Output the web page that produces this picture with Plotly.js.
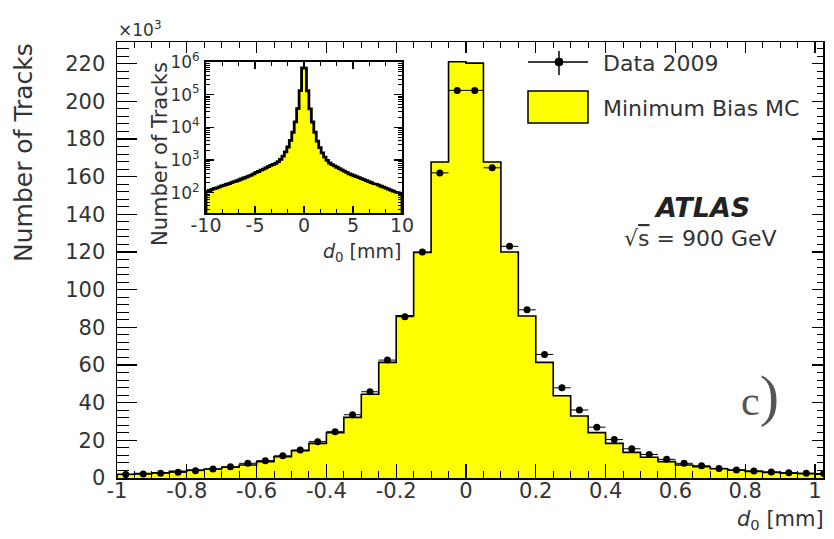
<!DOCTYPE html>
<html><head><meta charset="utf-8">
<script src="https://cdn.plot.ly/plotly-3.0.1.min.js"></script>
<style>html,body{margin:0;padding:0;background:#fff}#chart{width:834px;height:539px}</style>
</head><body><div id="chart"></div>
<script>
// ---- main histogram (d0 in mm, counts in units of 10^3) ----
const d0Bins = [-0.975,-0.925,-0.875,-0.825,-0.775,-0.725,-0.675,-0.625,-0.575,-0.525,
  -0.475,-0.425,-0.375,-0.325,-0.275,-0.225,-0.175,-0.125,-0.075,-0.025,
  0.025,0.075,0.125,0.175,0.225,0.275,0.325,0.375,0.425,0.475,
  0.525,0.575,0.625,0.675,0.725,0.775,0.825,0.875,0.925,0.975,1.025];
const mcCounts = [2.0,2.3,2.8,3.5,4.2,4.8,5.7,6.9,8.7,11.3,
  14.5,18.4,24.0,32.2,44.5,61.4,86.1,119.7,167.8,221.0,
  220.3,167.8,120.0,86.0,61.4,43.7,32.9,24.1,18.4,13.6,
  11.0,8.7,6.9,6.0,4.9,4.2,3.5,3.0,2.6,2.3,2.0];
const dataCounts = [1.8,2.1,2.5,3.0,3.9,4.8,6.0,7.8,9.2,11.8,
  14.9,19.3,24.6,33.6,45.8,62.6,85.6,120.0,162.0,205.8,
  205.8,164.7,123.0,89.3,65.6,47.9,36.1,27.0,20.4,15.5,
  12.5,9.9,7.8,6.5,5.1,4.2,3.7,3.2,2.8,2.5,2.4];
const mainBinWidth = 0.05;
const xTickVals = [-1,-0.8,-0.6,-0.4,-0.2,0,0.2,0.4,0.6,0.8,1];
const xTickText = ['-1','-0.8','-0.6','-0.4','-0.2','0','0.2','0.4','0.6','0.8','1'];

// ---- inset histogram (d0 in mm, counts) ----
const insetBins = [-9.875,-9.625,-9.375,-9.125,-8.875,-8.625,-8.375,-8.125,-7.875,-7.625,
  -7.375,-7.125,-6.875,-6.625,-6.375,-6.125,-5.875,-5.625,-5.375,-5.125,
  -4.875,-4.625,-4.375,-4.125,-3.875,-3.625,-3.375,-3.125,-2.875,-2.625,
  -2.375,-2.125,-1.875,-1.625,-1.375,-1.125,-0.875,-0.625,-0.375,-0.125,
  0.125,0.375,0.625,0.875,1.125,1.375,1.625,1.875,2.125,2.375,
  2.625,2.875,3.125,3.375,3.625,3.875,4.125,4.375,4.625,4.875,
  5.125,5.375,5.625,5.875,6.125,6.375,6.625,6.875,7.125,7.375,
  7.625,7.875,8.125,8.375,8.625,8.875,9.125,9.375,9.625,9.875];
const insetMC = [110,117,126,135,141,151,162,170,182,191,
  204,219,229,245,263,282,302,324,347,380,
  417,447,490,525,575,631,692,741,794,891,
  1047,1318,1778,2512,3981,7079,14800,37400,133600,656000,
  655000,132000,37000,14600,7100,3800,2400,1660,1230,977,
  813,724,661,603,550,501,457,417,380,355,
  331,309,288,269,251,234,219,204,191,182,
  170,158,148,138,129,120,112,105,100,93];
const insetBinWidth = 0.25;
const insetXTickVals = [-10,-5,0,5,10];
const insetXTickText = ['-10','-5','0','5','10'];
const insetTickVals = [1e2,1e3,1e4,1e5,1e6];
const insetTickText = ['10<sup>2</sup>','10<sup>3</sup>','10<sup>4</sup>','10<sup>5</sup>','10<sup>6</sup>'];

function stepXY(centers, vals, w, floor){
  const xs=[centers[0]-w/2], ys=[floor];
  for(let i=0;i<centers.length;i++){ xs.push(centers[i]-w/2, centers[i]+w/2); ys.push(vals[i], vals[i]); }
  xs.push(centers[centers.length-1]+w/2); ys.push(floor);
  return {xs, ys};
}
const W=834, H=539;
const px = v => v/W, py = v => (H-v)/H;
const FONT = 'DejaVu Sans, Arial, sans-serif';
const TXT = '#333';

const mainStep = stepXY(d0Bins, mcCounts, mainBinWidth, 0);
const insetStep = stepXY(insetBins, insetMC, insetBinWidth, 1);

const traces = [
  {type:'bar', x:d0Bins, y:mcCounts, width:mainBinWidth, marker:{color:'#ffff00', line:{width:0}},
   xaxis:'x', yaxis:'y', name:'Minimum Bias MC', showlegend:false, hoverinfo:'skip'},
  {type:'scatter', mode:'lines', x:mainStep.xs, y:mainStep.ys, line:{color:'#000', width:1.6},
   xaxis:'x', yaxis:'y', showlegend:false, hoverinfo:'skip'},
  {type:'scatter', mode:'markers', x:d0Bins, y:dataCounts, name:'Data 2009',
   marker:{color:'#000', size:7},
   error_x:{type:'constant', value:mainBinWidth/2, thickness:1, width:0, color:'#000'},
   xaxis:'x', yaxis:'y', showlegend:false},
  {type:'scatter', x:[], y:[], xaxis:'x3', yaxis:'y', showlegend:false},
  {type:'scatter', x:[], y:[], xaxis:'x', yaxis:'y3', showlegend:false},
  {type:'bar', x:insetBins, y:insetMC, width:insetBinWidth, marker:{color:'#ffff00', line:{width:0}},
   xaxis:'x2', yaxis:'y2', showlegend:false, hoverinfo:'skip'},
  {type:'scatter', mode:'lines', x:insetStep.xs, y:insetStep.ys, line:{color:'#000', width:2.8},
   xaxis:'x2', yaxis:'y2', showlegend:false, hoverinfo:'skip'}
];

const mainDomX = [px(117), px(823)];
const mainDomY = [py(478), py(42)];
const axBase = {showgrid:false, zeroline:false, showline:true, linecolor:'#000', linewidth:1.5,
  ticks:'inside', tickcolor:'#000', tickwidth:1.2, fixedrange:true};

const layout = {
  width:W, height:H, margin:{l:0,r:0,t:0,b:0},
  paper_bgcolor:'#fff', plot_bgcolor:'rgba(0,0,0,0)',
  bargap:0, barmode:'overlay', showlegend:false,
  xaxis: Object.assign({}, axBase, {domain:mainDomX, anchor:'y', range:[-1,1.023],
    tickmode:'array', tickvals:xTickVals, ticktext:xTickText, ticklen:14, ticklabelstandoff:-7,
    minor:{tickmode:'linear', tick0:0, dtick:0.05, ticklen:7, ticks:'inside', tickcolor:'#000', tickwidth:1},
    tickfont:{family:FONT, size:21, color:TXT}}),
  xaxis3: Object.assign({}, axBase, {domain:mainDomX, anchor:'y', overlaying:'x', side:'top',
    range:[-1,1.023], tick0:0, dtick:0.2, ticklen:11, showticklabels:false,
    minor:{dtick:0.05, ticklen:6, ticks:'inside', tickcolor:'#000', tickwidth:1}}),
  yaxis: Object.assign({}, axBase, {domain:mainDomY, anchor:'x', range:[0,231.5],
    tick0:0, dtick:20, ticklen:20, ticklabelstandoff:6,
    minor:{dtick:4, ticklen:12, ticks:'inside', tickcolor:'#000', tickwidth:1},
    tickfont:{family:FONT, size:21, color:TXT}}),
  yaxis3: Object.assign({}, axBase, {domain:mainDomY, anchor:'x', overlaying:'y', side:'right',
    range:[0,231.5], tick0:0, dtick:20, ticklen:11, showticklabels:false,
    minor:{dtick:4, ticklen:6, ticks:'inside', tickcolor:'#000', tickwidth:1}}),
  xaxis2: Object.assign({}, axBase, {domain:[px(206), px(402)], anchor:'y2', range:[-10,10],
    tickmode:'array', tickvals:insetXTickVals, ticktext:insetXTickText, ticklen:7, linewidth:2,
    mirror:'ticks', ticklabelstandoff:-6,
    minor:{tickmode:'linear', tick0:0, dtick:5/3, ticklen:4, ticks:'inside', tickcolor:'#000', tickwidth:1},
    tickfont:{family:FONT, size:19, color:TXT}}),
  yaxis2: Object.assign({}, axBase, {domain:[py(213), py(62)], anchor:'x2', type:'log', range:[1.38,6.0],
    tickmode:'array', tickvals:insetTickVals, ticktext:insetTickText, ticklen:8, linewidth:2,
    mirror:'ticks', ticklabelstandoff:1,
    minor:{dtick:'D1', ticklen:4, ticks:'inside', tickcolor:'#000', tickwidth:1},
    tickfont:{family:FONT, size:17, color:TXT}}),
  shapes:[
    {type:'line', xref:'paper', yref:'paper', x0:px(528), x1:px(588), y0:py(62), y1:py(62), line:{color:'#000', width:1.5}},
    {type:'line', xref:'paper', yref:'paper', x0:px(559), x1:px(559), y0:py(51), y1:py(75), line:{color:'#000', width:1.5}},
    {type:'circle', xref:'paper', yref:'paper', x0:px(555), x1:px(563), y0:py(66), y1:py(58), fillcolor:'#000', line:{color:'#000', width:1}},
    {type:'rect', xref:'paper', yref:'paper', x0:px(528), x1:px(588), y0:py(123), y1:py(91), fillcolor:'#ffff00', line:{color:'#000', width:1.5}}
  ],
  annotations:[
    {xref:'paper', yref:'paper', x:px(116), y:py(29), xanchor:'left', yanchor:'middle', showarrow:false,
     text:'×10<sup>3</sup>', font:{family:FONT, size:17, color:TXT}},
    {xref:'paper', yref:'paper', x:px(24), y:py(153), xanchor:'center', yanchor:'middle', showarrow:false,
     textangle:-90, text:'Number of Tracks', font:{family:FONT, size:25, color:TXT}},
    {xref:'paper', yref:'paper', x:px(826), y:py(520), xanchor:'right', yanchor:'middle', showarrow:false,
     text:'<i>d</i><sub>0</sub> [mm]', font:{family:FONT, size:21, color:TXT}},
    {xref:'paper', yref:'paper', x:px(160), y:py(154), xanchor:'center', yanchor:'middle', showarrow:false,
     textangle:-90, text:'Number of Tracks', font:{family:FONT, size:21, color:TXT}},
    {xref:'paper', yref:'paper', x:px(403), y:py(253), xanchor:'right', yanchor:'middle', showarrow:false,
     text:'<i>d</i><sub>0</sub> [mm]', font:{family:FONT, size:19, color:TXT}},
    {xref:'paper', yref:'paper', x:px(702), y:py(208), xanchor:'center', yanchor:'middle', showarrow:false,
     text:'<b><i>ATLAS</i></b>', font:{family:FONT, size:27, color:'#222'}},
    {xref:'paper', yref:'paper', x:px(700), y:py(238), xanchor:'center', yanchor:'middle', showarrow:false,
     text:'√<span style="text-decoration:overline">s</span> = 900 GeV', font:{family:FONT, size:22, color:TXT}},
    {xref:'paper', yref:'paper', x:px(760), y:py(395), xanchor:'center', yanchor:'middle', showarrow:false,
     text:'c<span style="font-size:58px">)</span>', font:{family:'Liberation Serif, serif', size:42, color:'#555'}},
    {xref:'paper', yref:'paper', x:px(601), y:py(63), xanchor:'left', yanchor:'middle', showarrow:false,
     text:'Data 2009', font:{family:FONT, size:22, color:TXT}},
    {xref:'paper', yref:'paper', x:px(601), y:py(108), xanchor:'left', yanchor:'middle', showarrow:false,
     text:'Minimum Bias MC', font:{family:FONT, size:22, color:TXT}}
  ]
};
Plotly.newPlot('chart', traces, layout, {staticPlot:true, displayModeBar:false});
</script></body></html>
